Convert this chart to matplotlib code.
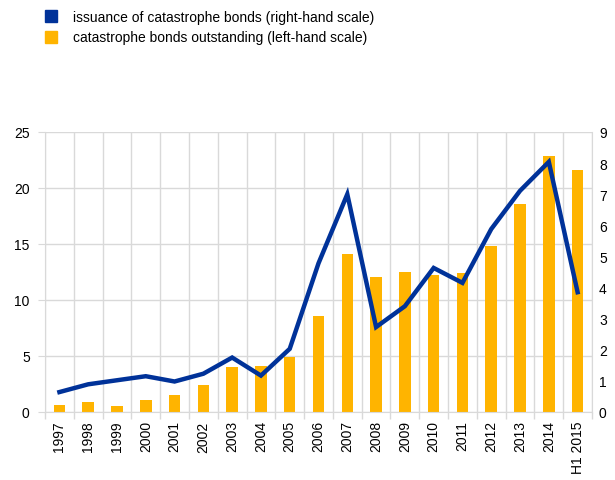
import numpy as np
import matplotlib
matplotlib.use('Agg')
from matplotlib import pyplot as plt
from matplotlib.lines import Line2D

plt.rcParams['font.family'] = ['Liberation Sans', 'DejaVu Sans']

# data
years = ['1997', '1998', '1999', '2000', '2001', '2002', '2003', '2004', '2005', '2006',
         '2007', '2008', '2009', '2010', '2011', '2012', '2013', '2014', 'H1 2015']
outstanding = [0.65, 0.92, 0.5, 1.04, 1.48, 2.38, 3.98, 4.07, 4.93, 8.58,
               14.07, 12.08, 12.53, 12.23, 12.38, 14.85, 18.6, 22.9, 21.6]
issuance = [0.64, 0.89, 1.02, 1.15, 0.98, 1.23, 1.75, 1.17, 2.03, 4.78,
            7.0, 2.73, 3.4, 4.63, 4.15, 5.88, 7.11, 8.04, 3.85]

blue = '#003299'
yellow = '#FFB400'
grid = '#D9D9D9'

fig = plt.figure(figsize=(6.15, 4.81), dpi=100)
ax = fig.add_axes([0.0732, 0.1414, 0.8894, 0.5821])
ax2 = ax.twinx()

x = np.arange(len(years))
ax.bar(x, outstanding, width=0.4, color=yellow, zorder=2)
ax2.plot(x, issuance, color=blue, lw=3.2, solid_joinstyle='miter', zorder=3)

ax.set_xlim(-0.5, len(years) - 0.5)
ax.set_ylim(0, 25)
ax.set_yticks(range(0, 26, 5))
ax2.set_ylim(0, 9)
ax2.set_yticks(range(0, 10))

ax.set_xticks(x)
ax.set_xticklabels(years, rotation=90)
ax.set_xticks(np.arange(-0.5, len(years), 1), minor=True)
ax.tick_params(axis='x', which='major', length=0, pad=6, labelsize=10)
ax.tick_params(axis='x', which='minor', length=5, color=grid, width=1)
ax.tick_params(axis='y', length=5, color=grid, labelsize=10, pad=6)
ax2.tick_params(axis='y', length=0, labelsize=10, pad=5)

ax.grid(True, which='minor', axis='x', color=grid, lw=1, zorder=0)
ax.grid(True, which='major', axis='y', color=grid, lw=1, zorder=0)
ax.set_axisbelow(True)

for a in (ax, ax2):
    for s in a.spines.values():
        s.set_visible(False)
ax.spines['left'].set_visible(True)
ax.spines['bottom'].set_visible(True)
ax.spines['right'].set_visible(True)
for s in ('left', 'bottom', 'right'):
    ax.spines[s].set_color(grid)

handles = [Line2D([], [], marker='s', ls='none', color=blue, markersize=9),
           Line2D([], [], marker='s', ls='none', color=yellow, markersize=9)]
labels = ['issuance of catastrophe bonds (right-hand scale)',
          'catastrophe bonds outstanding (left-hand scale)']
fig.legend(handles, labels, loc='upper left', bbox_to_anchor=(0.058, 0.994),
           frameon=False, fontsize=10, handlelength=1, handletextpad=1.1,
           labelspacing=0.45, borderaxespad=0.2)

fig.savefig('out.png', dpi=100)
